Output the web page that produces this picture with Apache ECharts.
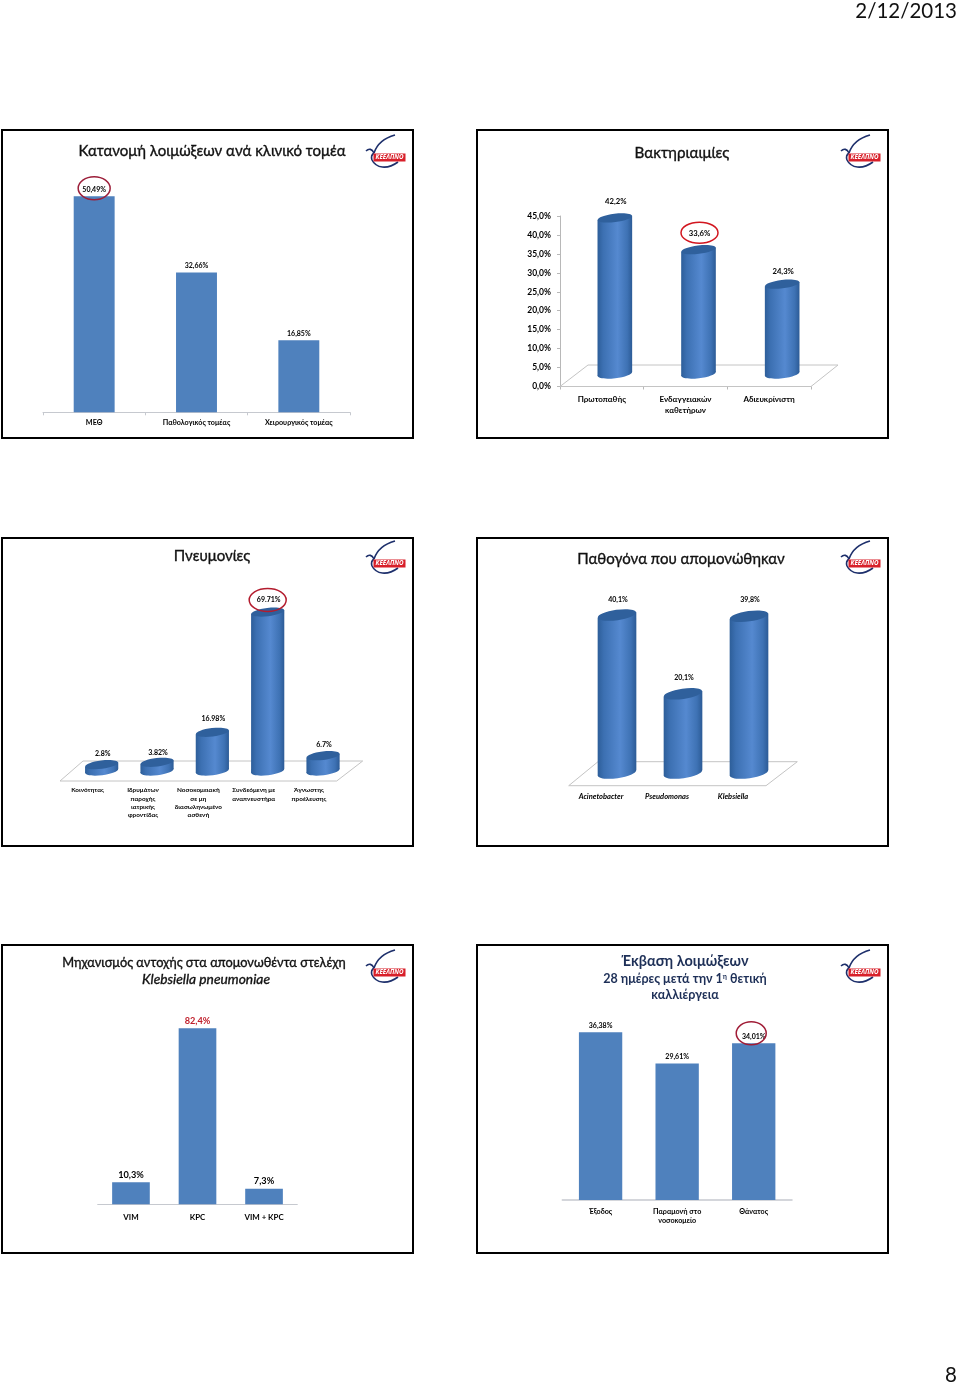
<!DOCTYPE html>
<html><head><meta charset="utf-8">
<style>html,body{margin:0;padding:0;background:#fff}#c{width:960px;height:1384px}</style>
<script src="https://cdn.jsdelivr.net/npm/echarts@6/dist/echarts.min.js"></script>
</head><body><div id="c"></div>
<script>
// ---------- data ----------
const sectorCats = ['ΜΕΘ', 'Παθολογικός τομέας', 'Χειρουργικός τομέας'];
const sectorVals = [50.49, 32.66, 16.85];
const bactCats = ['Πρωτοπαθής', 'Ενδαγγειακών\nκαθετήρων', 'Αδιευκρίνιστη'];
const bactVals = [42.2, 33.6, 24.3];
const pneuCats = ['Κοινότητας', 'Ιδρυμάτων\nπαροχής\nιατρικής\nφροντίδας', 'Νοσοκομειακή\nσε μη\nδιασωληνωμένο\nασθενή', 'Συνδεόμενη με\nαναπνευστήρα', 'Άγνωστης\nπροέλευσης'];
const pneuVals = [2.8, 3.82, 16.98, 69.71, 6.7];
const pathCats = ['Acinetobacter', 'Pseudomonas', 'Klebsiella'];
const pathVals = [40.1, 20.1, 39.8];
const mechCats = ['VIM', 'KPC', 'VIM + KPC'];
const mechVals = [10.3, 82.4, 7.3];
const outCats = ['Έξοδος', 'Παραμονή στο\nνοσοκομείο', 'Θάνατος'];
const outVals = [36.38, 29.61, 34.01];

// ---------- style ----------
const FF = 'Lato, "Noto Sans", sans-serif';
const INK = '#000', NAVY = '#1d2f57', AXIS = '#c6c9cf', BLUE = '#4f81bd';
const fmt = (v, sep) => String(v).replace('.', sep) + '%';

const grids = [], xAxes = [], yAxes = [], series = [], titles = [], graphics = [];

function addGrid(left, width, baseline, height, max, cats, xOpt, yOpt) {
  const idx = grids.length;
  grids.push({left, width, top: baseline - height, height, containLabel: false});
  xAxes.push(Object.assign({gridIndex: idx, type: 'category', data: cats,
    axisLine: {show: false}, axisTick: {show: false}, axisLabel: {show: false}, splitLine: {show: false}}, xOpt || {}));
  yAxes.push(Object.assign({gridIndex: idx, type: 'value', min: 0, max,
    axisLine: {show: false}, axisTick: {show: false}, axisLabel: {show: false}, splitLine: {show: false}}, yOpt || {}));
  return idx;
}
function catLabels(size, margin, lh, extra) {
  return Object.assign({show: true, fontFamily: FF, fontSize: size, fontWeight: 'bold', color: INK,
    margin, lineHeight: lh, interval: 0, hideOverlap: false}, extra || {});
}
function ring(idx, cat, val, dx, dy, rx, ry, color) {
  series.push({type: 'custom', xAxisIndex: idx, yAxisIndex: idx, z: 6, silent: true, clip: false,
    data: [[cat, val]],
    renderItem(p, api) {
      const c = api.coord([api.value(0), api.value(1)]);
      return {type: 'ellipse', shape: {cx: c[0] + dx, cy: c[1] + dy, rx, ry},
        style: {fill: 'none', stroke: color, lineWidth: 1.5}};
    }});
}
function bars(idx, vals, ratio, sep, lblSize, dist, colorFn) {
  series.push({type: 'bar', xAxisIndex: idx, yAxisIndex: idx, barWidth: (ratio * 100) + '%',
    itemStyle: {color: BLUE},
    data: vals.map((v, i) => ({value: v, label: {color: colorFn ? colorFn(i) : INK}})),
    label: {show: true, position: 'top', distance: dist, fontFamily: FF, fontSize: lblSize, fontWeight: 'bold',
      formatter: p => fmt(p.value, sep)}});
}
const cylGrad = new echarts.graphic.LinearGradient(0, 0, 1, 0, [
  {offset: 0, color: '#2d5e99'}, {offset: 0.16, color: '#3c70b2'}, {offset: 0.58, color: '#5589d0'},
  {offset: 0.86, color: '#3e72b4'}, {offset: 1, color: '#2c5b96'}]);
function cylinders(idx, vals, ratio, ry, rotDeg, sep, lblSize, gaps) {
  const rot = rotDeg * Math.PI / 180;
  series.push({type: 'custom', xAxisIndex: idx, yAxisIndex: idx, z: 4, clip: false,
    data: vals.map((v, i) => [i, v]),
    encode: {x: 0, y: 1},
    renderItem(p, api) {
      const top = api.coord([api.value(0), api.value(1)]);
      const base = api.coord([api.value(0), 0]);
      const rx = api.size([1, 0])[0] * ratio / 2;
      const d = rx * Math.sin(rot);
      const cx = top[0];
      return {type: 'group', children: [
        {type: 'ellipse', x: cx, y: base[1], rotation: rot, shape: {cx: 0, cy: 0, rx, ry}, style: {fill: cylGrad}},
        {type: 'polygon', shape: {points: [[cx - rx, top[1] + d], [cx + rx, top[1] - d], [cx + rx, base[1] - d], [cx - rx, base[1] + d]]}, style: {fill: cylGrad}},
        {type: 'ellipse', x: cx, y: top[1], rotation: rot, shape: {cx: 0, cy: 0, rx, ry}, style: {fill: '#2f609c'}},
        {type: 'text', style: {text: fmt(api.value(1), sep), x: cx + 1, y: top[1] - gaps[p.dataIndex], align: 'center', verticalAlign: 'middle',
          fontFamily: FF, fontSize: lblSize, fontWeight: 'bold', fill: INK}}
      ]};
    }});
}
function floor(pts) {
  graphics.push({type: 'polygon', z: 1, shape: {points: pts}, style: {fill: '#fff', stroke: '#c4c4c4', lineWidth: 1}});
}
function frame(x, y, w, h) {
  graphics.push({type: 'rect', z: 0, shape: {x, y, width: w, height: h}, style: {fill: '#fff', stroke: '#000', lineWidth: 2}});
}
function curve(x1, y1, cx1, cy1, cx2, cy2, x2, y2) {
  return {type: 'bezierCurve', shape: {x1, y1, cpx1: cx1, cpy1: cy1, cpx2: cx2, cpy2: cy2, x2, y2},
    style: {fill: 'none', stroke: '#1d2f6b', lineWidth: 1.6}};
}
function logo(x, y) {
  graphics.push({type: 'group', x, y, z: 5, children: [
    curve(30, 0, 19, 3, 12, 9, 9, 18),
    curve(1, 16, 4, 13, 7, 14, 9, 18),
    curve(9, 18, 6, 20, 6, 22, 7, 25),
    curve(7, 25, 11, 33, 22, 35, 33, 27),
    {type: 'rect', shape: {x: 8.5, y: 18.5, width: 32, height: 8}, style: {fill: '#d8202a'}},
    {type: 'text', style: {text: 'ΚΕΕΛΠΝΟ', x: 24.5, y: 22.7, align: 'center', verticalAlign: 'middle', fontFamily: '"Noto Sans"', fontSize: 6.2, fontWeight: 'bold', fontStyle: 'italic', fill: '#fff'}}
  ]});
}
function title(text, x, y, size, opt) {
  titles.push({text, left: x, top: y - size * 0.5, padding: 0, textAlign: 'center', textVerticalAlign: 'top',
    textStyle: Object.assign({fontFamily: FF, fontSize: size, fontWeight: 'normal', color: '#111',
      textBorderColor: '#111', textBorderWidth: 0.35}, opt || {})});
}

// ---------- frames ----------
[[2, 130], [477, 130], [2, 538], [477, 538], [2, 945], [477, 945]].forEach(([x, y]) => { frame(x, y, 411, 308); });
[[365, 135], [840, 135], [365, 541], [840, 541], [365, 950], [840, 950]].forEach(([x, y]) => logo(x, y));

// ---------- panel 1: clinical sector ----------
title('Κατανομή λοιμώξεων ανά κλινικό τομέα', 212, 151, 15);
{
  const g = addGrid(43, 307, 412.3, 256.8, 60, sectorCats, {
    axisLine: {show: true, lineStyle: {color: AXIS}}, axisTick: {show: true, length: 3, lineStyle: {color: AXIS}},
    axisLabel: catLabels(7.2, 6, 9)});
  bars(g, sectorVals, 0.4, ',', 7, 3);
  ring(g, 0, sectorVals[0], 0, -8, 16, 11.5, '#9c1f3a');
}
// ---------- panel 2: bacteraemia ----------
title('Βακτηριαιμίες', 682, 153, 15.2);
{
  const a = addGrid(560, 251, 386.5, 170.5, 45, bactCats, {
    axisLine: {show: true, lineStyle: {color: '#b8b8b8'}}, axisTick: {show: true, length: 3, lineStyle: {color: '#b8b8b8'}},
    axisLabel: catLabels(8, 7, 11)
  }, {
    interval: 5, axisLine: {show: true, lineStyle: {color: '#b8b8b8'}}, axisTick: {show: true, length: 3, lineStyle: {color: '#b8b8b8'}},
    axisLabel: {show: true, fontFamily: FF, fontSize: 8.5, fontWeight: 'bold', color: INK, margin: 9,
      formatter: v => v.toFixed(1).replace('.', ',') + '%'}
  });
  floor([[560, 386.5], [811, 386.5], [838, 365], [588, 365]]);
  const b = addGrid(573, 251, 374, 166.5, 45, bactCats);
  cylinders(b, bactVals, 0.414, 4.2, 7, ',', 7.7, [16, 16, 13]);
  ring(b, 1, bactVals[1], 1, -17, 18.5, 10.5, '#d2161f');
}
// ---------- panel 3: pneumonia ----------
title('Πνευμονίες', 212, 556, 15);
{
  const a = addGrid(60, 276.7, 781, 40, 70, pneuCats, {axisLabel: catLabels(6.4, 5, 8.4)});
  floor([[60, 781], [336.7, 781], [362.7, 761], [83, 761]]);
  const b = addGrid(74, 276.7, 771, 159.6, 70, pneuCats);
  cylinders(b, pneuVals, 0.6, 4.2, 7, '.', 7, [11, 10, 14, 12, 11]);
  ring(b, 3, pneuVals[3], 0, -12, 18.5, 11.5, '#b31c2e');
}
// ---------- panel 4: pathogens ----------
title('Παθογόνα που απομονώθηκαν', 681, 559, 15);
{
  const a = addGrid(568, 198, 785.7, 30, 45, pathCats, {axisLabel: catLabels(7.5, 6, 9, {fontStyle: 'italic'})});
  floor([[568.7, 785.7], [766, 785.7], [797.3, 761.7], [598, 761.7]]);
  const b = addGrid(584, 198, 773, 177.3, 45, pathCats);
  cylinders(b, pathVals, 0.586, 5.2, 8, ',', 7, [15, 16, 16]);
}
// ---------- panel 5: resistance mechanism ----------
title('Μηχανισμός αντοχής στα απομονωθέντα στελέχη', 204, 963, 12.8);
title('Klebsiella pneumoniae', 206, 979, 13.8, {fontStyle: 'italic'});
{
  const g = addGrid(97.7, 199.6, 1204.3, 192.2, 90, mechCats, {
    axisLine: {show: true, lineStyle: {color: AXIS}}, axisLabel: catLabels(7.9, 8, 10)});
  bars(g, mechVals, 0.566, ',', 9.2, 3, i => i === 1 ? '#c0202c' : INK);
}
// ---------- panel 6: outcome ----------
title('Έκβαση λοιμώξεων', 685, 961, 14.5, {color: NAVY, fontWeight: 'bold', textBorderWidth: 0});
title('28 ημέρες μετά την 1{s|η} θετική', 685, 979, 12.5, {color: NAVY, fontWeight: 'bold', textBorderWidth: 0,
  rich: {s: {fontFamily: FF, fontSize: 7, fontWeight: 'bold', color: NAVY, verticalAlign: 'top'}}});
title('καλλιέργεια', 685, 995, 12.5, {color: NAVY, fontWeight: 'bold', textBorderWidth: 0});
{
  const g = addGrid(562.3, 229.7, 1200, 184.4, 40, outCats, {
    axisLine: {show: true, lineStyle: {color: AXIS, width: 1.5}}, axisLabel: catLabels(7.2, 7, 9.3)});
  bars(g, outVals, 0.566, ',', 7, 3);
  ring(g, 2, outVals[2], -2.5, -10, 15, 11.5, '#a01c36');
}
// ---------- page furniture ----------
graphics.push({type: 'text', z: 5, style: {text: '2/12/2013', x: 957, y: 11, align: 'right', verticalAlign: 'middle', fontFamily: FF, fontSize: 20.5, fill: '#111'}});
graphics.push({type: 'text', z: 5, style: {text: '8', x: 957, y: 1375, align: 'right', verticalAlign: 'middle', fontFamily: FF, fontSize: 20.5, fill: '#111'}});

const chart = echarts.init(document.getElementById('c'), null, {width: 960, height: 1384});
chart.setOption({animation: false, backgroundColor: '#fff', tooltip: {show: false}, title: titles,
  grid: grids, xAxis: xAxes, yAxis: yAxes, series, graphic: {elements: graphics}});
</script></body></html>
